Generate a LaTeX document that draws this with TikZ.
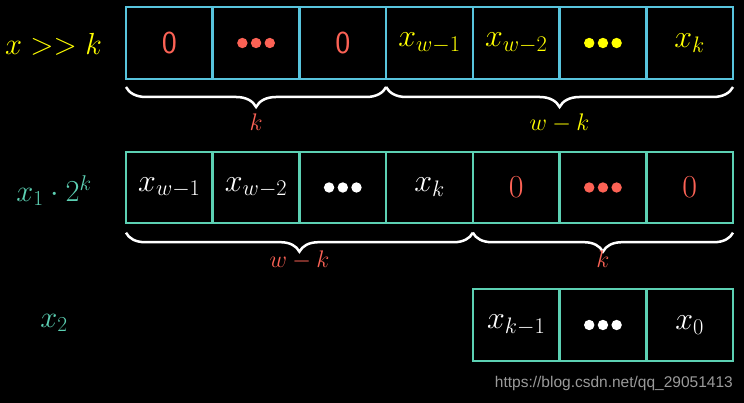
\documentclass[tikz,border=0pt]{standalone}
\usepackage{fix-cm}
\usepackage{fontspec}
\newfontfamily\wmfont{Liberation Sans}
\usetikzlibrary{decorations.pathreplacing,calc}
\definecolor{cblue}{HTML}{58C4DD}
\definecolor{cteal}{HTML}{5CD0B3}
\definecolor{cyel}{HTML}{FFFF00}
\definecolor{cred}{HTML}{FC6255}
\definecolor{cgray}{HTML}{9A9A9A}
\begin{document}
\begin{tikzpicture}[x=1pt,y=1pt,
  cell/.style={draw, line width=2.7pt, minimum width=86.714pt, minimum height=72pt,
    inner sep=0pt, outer sep=0pt, font=\fontsize{32}{38}\selectfont},
  rowA/.style={cell, draw=cblue},
  rowB/.style={cell, draw=cteal, minimum height=71pt},
  rowC/.style={cell, draw=cteal},
  lab/.style={font=\fontsize{30.5}{36}\selectfont, inner sep=0pt},
  blab/.style={font=\fontsize{24}{29}\selectfont, anchor=base, inner sep=0pt},
  brcA/.style={draw=white, line width=2.5pt, decorate, decoration={brace, mirror, amplitude=20pt}},
  brcB/.style={draw=white, line width=2.5pt, decorate, decoration={brace, mirror, amplitude=19pt}}]
\fill[black] (0,0) rectangle (744,403);

% row 1
\node[rowA, text=cred] (a0) at (169.357,360) {\textsf{0}};
\node[rowA] (a1) at (256.071,360) {};
\node[rowA, text=cred] (a2) at (342.786,360) {\textsf{0}};
\node[rowA, text=cyel] (a3) at (429.5,360) {$x_{w-1}$};
\node[rowA, text=cyel] (a4) at (516.214,360) {$x_{w-2}$};
\node[rowA] (a5) at (602.929,360) {};
\node[rowA, text=cyel] (a6) at (689.643,360) {$x_{k}$};
\foreach \d in {-13.7,0,13.7} {
  \fill[cred] ($(a1.center)+(\d,0)$) circle (5.2pt);
  \fill[cyel] ($(a5.center)+(\d,0)$) circle (5.2pt);
}
\node[lab, text=cyel] (la) at (53.5,359) {$x >> k$};

% row 2
\node[rowB, text=white] (b0) at (169.357,215.5) {$x_{w-1}$};
\node[rowB, text=white] (b1) at (256.071,215.5) {$x_{w-2}$};
\node[rowB] (b2) at (342.786,215.5) {};
\node[rowB, text=white] (b3) at (429.5,215.5) {$x_{k}$};
\node[rowB, text=cred] (b4) at (516.214,215.5) {$0$};
\node[rowB] (b5) at (602.929,215.5) {};
\node[rowB, text=cred] (b6) at (689.643,215.5) {$0$};
\foreach \d in {-13.7,0,13.7} {
  \fill[white] ($(b2.center)+(\d,0)$) circle (5.2pt);
  \fill[cred] ($(b5.center)+(\d,0)$) circle (5.2pt);
}
\node[lab, text=cteal] (lb) at (54,212.5) {$x_1\cdot 2^k$};

% row 3
\node[rowC, text=white] (c4) at (516.214,78) {$x_{k-1}$};
\node[rowC] (c5) at (602.929,78) {};
\node[rowC, text=white] (c6) at (689.643,78) {$x_{0}$};
\foreach \d in {-13.7,0,13.7} {
  \fill[white] ($(c5.center)+(\d,0)$) circle (5.2pt);
}
\node[lab, text=cteal] (lc) at (54,80) {$x_2$};

% braces row 1
\draw[brcA] ([yshift=-8pt]a0.south west) -- ([yshift=-8pt]a2.south east);
\draw[brcA] ([yshift=-8pt]a3.south west) -- ([yshift=-8pt]a6.south east);
\node[blab, text=cred] (ka) at ($(a0.south west)!0.5!(a2.south east)+(0,-51.5)$) {$k$};
\node[blab, text=cyel] (wa) at ($(a3.south west)!0.5!(a6.south east)+(0,-51.5)$) {$w-k$};

% braces row 2
\draw[brcB] ([yshift=-9.7pt]b0.south west) -- ([yshift=-9.7pt]b3.south east);
\draw[brcB] ([yshift=-9.7pt]b4.south west) -- ([yshift=-9.7pt]b6.south east);
\node[blab, text=cred] (wb) at ($(b0.south west)!0.5!(b3.south east)+(0,-45)$) {$w-k$};
\node[blab, text=cred] (kb) at ($(b4.south west)!0.5!(b6.south east)+(0,-45)$) {$k$};

% watermark
\node[anchor=base east, text=cgray, inner sep=0pt, font=\wmfont\fontsize{15.5}{18}\selectfont] (wm) at (733,15) {https://blog.csdn.net/qq\_29051413};
\end{tikzpicture}
\end{document}
